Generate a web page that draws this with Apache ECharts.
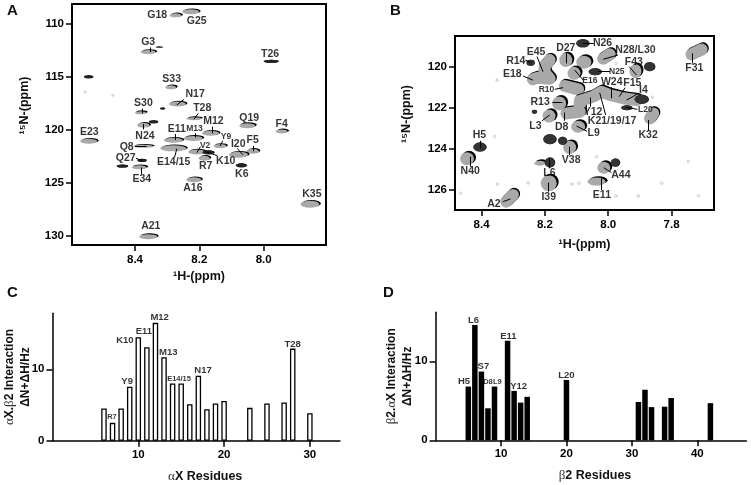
<!DOCTYPE html>
<html><head><meta charset="utf-8">
<style>html,body{margin:0;background:#fff}#c{width:751px;height:485px}</style>
<script src="https://cdn.jsdelivr.net/npm/echarts@6/dist/echarts.min.js"></script>
</head><body><div id="c"></div>
<script>
/* ---------- Panel A: spectrum, [1H ppm, 15N ppm] ---------- */
const peaksA = [[8.274,109.18],[8.227,108.84],[8.359,112.64],[8.289,115.97],[8.268,117.55],[8.383,118.36],[8.217,118.93],[8.374,119.56],[8.051,119.59],[7.944,120.13],[8.165,120.31],[8.219,120.79],[8.281,120.97],[8.544,121.07],[8.136,121.51],[8.374,121.54],[8.281,121.73],[8.208,122.08],[8.034,122.01],[8.078,122.33],[8.185,122.67],[8.387,123.52],[8.217,124.69],[7.856,127.01],[8.359,130.06]];
const peakSizeA = [[12,4],[17,5],[15,4],[11,4],[17,5],[11,3],[15,3],[12,5],[16,5],[12,4],[17,5],[19,5],[19,5],[17,5],[13,4],[20,3],[26,6],[17,5],[12,5],[19,6],[11,5],[15,4],[15,5],[19,7],[18,5]];
const darkA = [[8.325,112.17],[7.977,113.52],[8.545,114.97],[8.315,117.96],[8.343,119.21],[8.172,122.11],[8.379,122.86],[8.07,123.33],[8.44,123.4]];
const darkSizeA = [[7,1],[15,3],[9,3],[5,2],[9,3],[12,4],[9,3],[11,4],[11,3]];
const noiseA = [[8.555,116.42],[8.469,116.73]];
const labelsA = [['G18',8.331,109.12],['G25',8.208,109.69],['G3',8.359,111.70],['T26',7.98,112.86],['S33',8.286,115.22],['N17',8.213,116.60],['S30',8.374,117.42],['T28',8.191,117.89],['M12',8.156,119.12],['Q19',8.045,118.84],['F4',7.944,119.47],['E23',8.542,120.22],['E11',8.27,119.91],['N24',8.369,120.53],['I20',8.079,121.32],['F5',8.034,120.97],['Q8',8.426,121.64],['Q27',8.429,122.61],['E14/15',8.28,122.99],['K10',8.118,122.96],['R7',8.18,123.40],['K6',8.068,124.12],['E34',8.379,124.59],['A16',8.22,125.47],['K35',7.85,126.07],['A21',8.351,129.09]];
const smallLabelsA = [['M13',8.215,119.91],['Y9',8.117,120.63],['V2',8.182,121.45]];
const leadersA = [[8.353,112.2,8.353,112.64],[8.376,117.99,8.376,118.43],[8.374,119.43,8.374,119.94],[8.203,118.43,8.217,118.99],[8.248,117.11,8.27,117.64],[8.159,119.69,8.159,120.31],[8.274,120.38,8.274,120.94],[8.213,120.31,8.213,120.69],[8.127,121.01,8.136,121.51],[8.4,121.51,8.364,121.51],[8.397,122.67,8.379,122.89],[8.27,121.76,8.277,122.58],[8.196,121.57,8.208,122.14],[8.144,122.42,8.182,122.04],[8.082,121.73,8.065,122.33],[8.032,121.51,8.032,122.01],[8.381,123.52,8.381,124.15]];

/* ---------- Panel B ---------- */
const peaksB = [[8.134,119.66],[8.077,119.76],[7.914,120.20],[8.108,120.31],[8.155,121.78],[8.187,122.40],[8.095,122.92],[8.446,124.49],[8.122,123.93],[8.216,124.71],[8.188,125.69],[8.014,124.93],[8.037,125.61]];
const peakSizeB = [[13,14],[15,13],[12,14],[13,13],[14,14],[13,13],[14,12],[14,13],[13,13],[11,5],[16,16],[13,12],[18,8]];
const darkB = [[7.87,119.98],[8.081,118.84],[8.246,119.79],[8.042,120.23],[7.942,121.99],[7.895,121.58],[8.406,123.92],[8.185,123.54],[8.145,123.61],[8.185,124.67],[7.978,124.68],[8.234,122.19]];
const darkSizeB = [[11,9],[13,8],[8,6],[13,7],[11,5],[14,9],[13,9],[13,10],[9,8],[10,10],[9,8],[5,4]];
const ridgesB = [
  [[8.238,120.60],[8.222,120.52],[8.185,120.57],[8.201,120.28],[8.201,119.95],[8.185,119.66]],
  [[8.137,120.93],[8.095,121.09]],
  [[8.132,122.27],[8.09,122.19],[8.09,121.66],[8.048,121.45],[8.021,121.21],[7.995,121.37],[7.953,121.53],[7.911,121.62]],
  [[8.016,119.59],[7.995,119.38]],
  [[7.868,122.51],[7.858,122.27]],
  [[7.737,119.38],[7.705,119.14]],
  [[8.322,126.59],[8.301,126.26]]
];
const noiseB = [[8.351,120.64],[8.359,123.41],[8.466,126.18],[8.35,125.73],[8.253,125.68],[8.114,125.73],[8.092,125.69],[8.037,124.39],[7.976,126.31],[7.905,126.31],[7.831,125.69],[7.747,124.63],[7.715,126.3],[7.861,121.48],[7.976,119.82]];
const labelsB = [['N26',8.018,118.81],['N28/L30',7.914,119.17],['D27',8.134,119.09],['E45',8.228,119.28],['R14',8.292,119.71],['F43',7.919,119.76],['E18',8.303,120.34],['W24',7.989,120.75],['F15',7.924,120.78],['I4',7.889,121.13],['R13',8.215,121.70],['Y12',8.048,122.19],['K21/19/17',7.988,122.63],['L3',8.23,122.89],['D8',8.147,122.92],['L9',8.046,123.25],['K32',7.874,123.31],['F31',7.728,120.05],['H5',8.407,123.34],['V38',8.117,124.57],['N40',8.436,125.12],['L6',8.186,125.2],['A44',7.96,125.27],['E11',8.02,126.26],['I39',8.188,126.38],['A2',8.361,126.72]];
const smallLabelsB = [['N25',7.973,120.23],['E16',8.058,120.67],['R10',8.195,121.09],['L20',7.883,122.10]];
const leadersB = [[8.079,118.84,8.046,118.84],[8.016,119.62,7.969,119.41],[8.134,119.33,8.134,119.82],[8.225,119.49,8.206,120.23],[8.262,119.66,8.243,119.79],[7.934,119.98,7.911,120.39],[8.269,120.44,8.238,120.64],[8.032,120.23,7.995,120.23],[8.106,120.15,8.079,120.64],[7.992,121.0,7.992,121.53],[7.947,121.01,7.965,121.45],[8.169,121.09,8.143,121.01],[7.905,121.29,7.942,121.62],[8.176,121.71,8.145,121.71],[7.908,122.07,7.947,121.97],[8.056,121.50,8.056,121.94],[8.027,121.26,8.008,122.35],[8.209,122.63,8.185,122.35],[8.139,122.23,8.139,122.63],[8.1,122.89,8.067,123.15],[7.874,122.59,7.874,123.12],[7.734,119.33,7.734,119.82],[8.404,123.61,8.404,123.98],[8.122,123.9,8.122,124.31],[8.436,124.39,8.436,124.88],[8.185,124.47,8.185,124.96],[8.014,124.93,7.99,125.17],[8.021,125.45,8.021,126.02],[8.19,125.66,8.19,126.1],[8.332,126.59,8.309,126.46]];

/* ---------- Panel C ---------- */
const residuesC = [6,7,8,9,10,11,12,13,14,15,16,17,18,19,20,23,25,27,28,30];
const valuesC = [4.5,2.5,4.5,7.57,14.5,13.1,16.5,11.7,8.0,8.0,5.1,9.1,4.4,5.2,5.55,4.6,5.2,5.35,12.9,3.85];
const labelsC = [['Y9',8.7,8.27],['K10',8.44,14.11],['E11',10.66,15.28],['M12',12.49,17.29],['M13',13.5,12.43],['N17',17.55,9.81],['T28',28.0,13.55]];
const smallLabelsC = [['R7',6.93,3.32],['E14/15',14.75,8.6]];

/* ---------- Panel D ---------- */
const residuesD = [5,6,7,8,9,11,12,13,14,20,31,32,33,35,36,42];
const valuesD = [6.8,14.6,8.7,4.05,6.8,12.6,6.25,4.77,5.5,7.64,4.85,6.4,4.2,4.25,5.35,4.7];
const labelsD = [['H5',4.35,7.43],['L6',5.78,15.15],['S7',7.3,9.41],['E11',11.12,13.2],['Y12',12.7,6.84],['L20',20.0,8.19]];
const smallLabelsD = [['D8',8.0,7.43],['L9',9.44,7.43]];

/* ---------- Axis ticks ---------- */
const ticksAx = [8.4,8.2,8.0], ticksAy = [110,115,120,125,130];
const ticksBx = [8.4,8.2,8.0,7.8], ticksBy = [120,122,124,126];
const ticksCx = [10,20,30], ticksCy = [0,10];
const ticksDx = [10,20,30,40], ticksDy = [0,10];

const FONT = '"Liberation Sans",Arial,sans-serif';
const lblFmt = { ppm: v => v.toFixed(1), num: v => String(v) };
const rich = { g:{fontFamily:'"Liberation Serif",serif',fontWeight:'normal',fontSize:13,color:'#333'} };

function axis(o){
  return Object.assign({
    type:'value', scale:false, splitLine:{show:false}, nameMoveOverlap:false,
    axisLine:{show:false,onZero:false},
    axisTick:{show:true,length:6,lineStyle:{color:'#000',width:1.5},customValues:o.ticks},
    axisLabel:{show:true,customValues:o.ticks,color:'#000',fontFamily:FONT,fontWeight:'bold',fontSize:11.5,
      formatter:o.fmt||lblFmt.num,margin:o.margin||8},
    nameLocation:'middle',
    nameTextStyle:Object.assign({color:'#111',fontFamily:FONT,fontWeight:'bold',fontSize:12.5,rich},o.nameStyle||{})
  },o.opt);
}
function peakSeries(i,pts,sizes,color,sx,sy){
  return {type:'scatter',xAxisIndex:i,yAxisIndex:i,silent:true,z:3,symbol:'circle',
    data:pts.map((p,k)=>({value:p,symbolSize:sizes[k]})),
    itemStyle:{color,opacity:1,shadowColor:'#000',shadowBlur:0.5,shadowOffsetX:sx,shadowOffsetY:sy}};
}
function textSeries(i,list,size){
  return {type:'scatter',xAxisIndex:i,yAxisIndex:i,silent:true,z:6,symbolSize:0.01,
    data:list.map(l=>({value:[l[1],l[2]],name:l[0]})),
    itemStyle:{color:'transparent'},
    label:{show:true,position:'inside',formatter:p=>p.name,color:'#000',fontFamily:FONT,fontWeight:'bold',fontSize:size}};
}
function leaderSeries(i,list){
  return {type:'lines',coordinateSystem:'cartesian2d',xAxisIndex:i,yAxisIndex:i,silent:true,z:5,
    lineStyle:{color:'#000',width:1,opacity:1,curveness:0},
    data:list.map(l=>({coords:[[l[0],l[1]],[l[2],l[3]]]}))};
}
function noiseSeries(i,pts,size){
  return {type:'scatter',xAxisIndex:i,yAxisIndex:i,silent:true,z:2,symbol:'circle',symbolSize:size,data:pts,
    itemStyle:{color:'#fff',borderColor:'#bbb',borderWidth:0.8,opacity:1}};
}
function barSeries(i,x,y,style,w){
  return {type:'bar',xAxisIndex:i,yAxisIndex:i,silent:true,barWidth:w,data:x.map((r,k)=>[r,y[k]]),itemStyle:style,z:2};
}

const frame = {show:true,borderColor:'#000',borderWidth:2,backgroundColor:'transparent'};
const free = {outerBoundsMode:'none'};
const axisBar = {show:true,onZero:false,lineStyle:{color:'#000',width:1.5}};
const twoLine = {color:'#111',fontFamily:FONT,fontWeight:'bold',fontSize:12,lineHeight:16,rich};
const option = {
  animation:false, backgroundColor:'#fff',
  title:[['A',7,3],['B',390,3],['C',7,285],['D',383,285]].map(t=>({text:t[0],left:t[1],top:t[2],
    textStyle:{fontFamily:FONT,fontWeight:'bold',fontSize:15,color:'#111'},padding:0})),
  grid:[
    Object.assign({left:72,top:4,width:254,height:241},frame,free),
    Object.assign({left:455,top:36,width:259,height:174},frame,free),
    Object.assign({left:52.5,top:313.3,width:287.4,height:127.4},free),
    Object.assign({left:435.6,top:312.3,width:310.8,height:128},free)
  ],
  xAxis:[
    axis({ticks:ticksAx,fmt:lblFmt.ppm,margin:9,opt:{gridIndex:0,inverse:true,min:7.806,max:8.596,name:'¹H-(ppm)',nameGap:25}}),
    axis({ticks:ticksBx,fmt:lblFmt.ppm,margin:9,opt:{gridIndex:1,inverse:true,min:7.666,max:8.484,name:'¹H-(ppm)',nameGap:28}}),
    axis({ticks:ticksCx,opt:{gridIndex:2,min:0,max:33.5,name:'{g|α}X Residues',nameGap:29,axisLine:axisBar},nameStyle:{padding:[0,0,0,18]}}),
    axis({ticks:ticksDx,opt:{gridIndex:3,min:0,max:47.5,name:'{g|β}2 Residues',nameGap:29,axisLine:axisBar},nameStyle:{padding:[0,0,0,8]}})
  ],
  yAxis:[
    axis({ticks:ticksAy,opt:{gridIndex:0,inverse:true,min:108.11,max:130.85,name:'¹⁵N-(ppm)',nameGap:41},nameStyle:{padding:[0,0,0,38]}}),
    axis({ticks:ticksBy,opt:{gridIndex:1,inverse:true,min:118.48,max:127.0,name:'¹⁵N-(ppm)',nameGap:42},nameStyle:{padding:[0,0,0,18]}}),
    axis({ticks:ticksCy,opt:{gridIndex:2,min:0,max:17.84,name:'{g|α}X.{g|β}2 Interaction\nΔN+ΔH/Hz',nameGap:19,axisLine:axisBar,nameTextStyle:twoLine}}),
    axis({ticks:ticksDy,opt:{gridIndex:3,min:0,max:16.2,name:'{g|β}2.{g|α}X Interaction\nΔN+ΔH/Hz',nameGap:20,axisLine:axisBar,nameTextStyle:twoLine}})
  ],
  series:[
    noiseSeries(0,noiseA,2),
    peakSeries(0,peaksA,peakSizeA,'#a9a9a9',1.5,-0.8),
    peakSeries(0,darkA,darkSizeA,'#222',0.5,0),
    leaderSeries(0,leadersA), textSeries(0,labelsA,10.5), textSeries(0,smallLabelsA,8.5),

    noiseSeries(1,noiseB,2.5),
    ...ridgesB.map(r=>({type:'line',xAxisIndex:1,yAxisIndex:1,silent:true,z:3,symbol:'none',data:r,
      lineStyle:{color:'#a9a9a9',width:12,cap:'round',join:'round',shadowColor:'#000',shadowBlur:0.5,shadowOffsetX:1.2,shadowOffsetY:-1.2}})),
    peakSeries(1,peaksB,peakSizeB,'#a9a9a9',2,-1.4),
    peakSeries(1,darkB,darkSizeB,'#333',0.5,0),
    leaderSeries(1,leadersB), textSeries(1,labelsB,10.5), textSeries(1,smallLabelsB,8.5),

    barSeries(2,residuesC,valuesC,{color:'#fff',borderColor:'#000',borderWidth:1.3},5.5),
    textSeries(2,labelsC,9.5), textSeries(2,smallLabelsC,7.5),

    barSeries(3,residuesD,valuesD,{color:'#000'},5.5),
    textSeries(3,labelsD,9.5), textSeries(3,smallLabelsD,7.5)
  ]
};
echarts.init(document.getElementById('c'),null,{renderer:'canvas'}).setOption(option);
</script></body></html>
